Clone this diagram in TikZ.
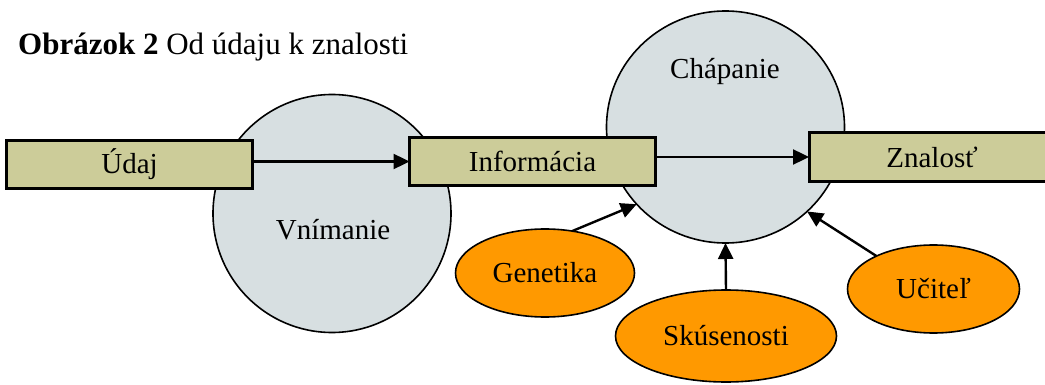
\documentclass[tikz,border=0pt]{standalone}
\usepackage{fontspec}
\setmainfont{Liberation Serif}
\usetikzlibrary{shapes.geometric,arrows.meta}

\definecolor{boxfill}{RGB}{204,204,153}
\definecolor{bubble}{RGB}{215,223,225}
\definecolor{factor}{RGB}{255,153,0}

\tikzset{
  stagebox/.style={draw=black, line width=3pt, fill=boxfill, rectangle,
    minimum width=246pt, minimum height=48pt, inner sep=0pt, outer sep=0pt,
    font=\fontsize{29}{32}\selectfont},
  process/.style={draw=black, line width=1.6pt, fill=bubble, ellipse,
    inner sep=0pt, outer sep=0pt},
  factorbox/.style={draw=black, line width=1.6pt, fill=factor, ellipse,
    inner sep=0pt, outer sep=0pt, font=\fontsize{29}{32}\selectfont},
  caption/.style={font=\fontsize{29}{32}\selectfont, inner sep=0pt},
  flow/.style={line width=2.4pt, -{Triangle[length=16pt,width=15pt]}},
}

\begin{document}
\begin{tikzpicture}[x=1pt, y=-1pt]
  \useasboundingbox (0,0) rectangle (1045,385);
  \clip (0,0) rectangle (1045,385);

  % title
  \node[anchor=base west, inner sep=0pt, font=\fontsize{31}{34}\selectfont]
    (title) at (18,55) {\textbf{Obrázok 2} Od údaju k znalosti};

  % processes (drawn first, boxes lie on top)
  \node[process, minimum width=238pt, minimum height=238pt] (vnim) at (332,213.5) {};
  \node[caption] (vnimlbl) at (333,230) {Vnímanie};
  \node[process, minimum width=238pt, minimum height=232pt] (chap) at (725.5,127) {};
  \node[caption] (chaplbl) at (725,72) {Chápanie};

  % stages
  \node[stagebox] (udaj) at (129.5,164.5) {Údaj};
  \node[stagebox] (info) at (532.5,161.5) {Informácia};
  \node[stagebox, minimum height=49pt] (zn) at (932,157) {Znalosť};

  \draw[flow] (udaj.east |- info.west) -- (info.west);
  \draw[flow] (info.east |- zn.west) -- (zn.west);

  % influencing factors
  \node[factorbox, minimum width=179pt, minimum height=88pt] (gen) at (545,273) {Genetika};
  \node[factorbox, minimum width=221pt, minimum height=92pt] (sku) at (726,336) {Skúsenosti};
  \node[factorbox, minimum width=172pt, minimum height=88pt] (uci) at (933.5,289) {Učiteľ};

  \draw[flow] (gen.57) -- (chap.221.6);
  \draw[flow] (sku.north) -- (chap.south);
  \draw[flow] (uci.150) -- (chap.-46);
\end{tikzpicture}
\end{document}
